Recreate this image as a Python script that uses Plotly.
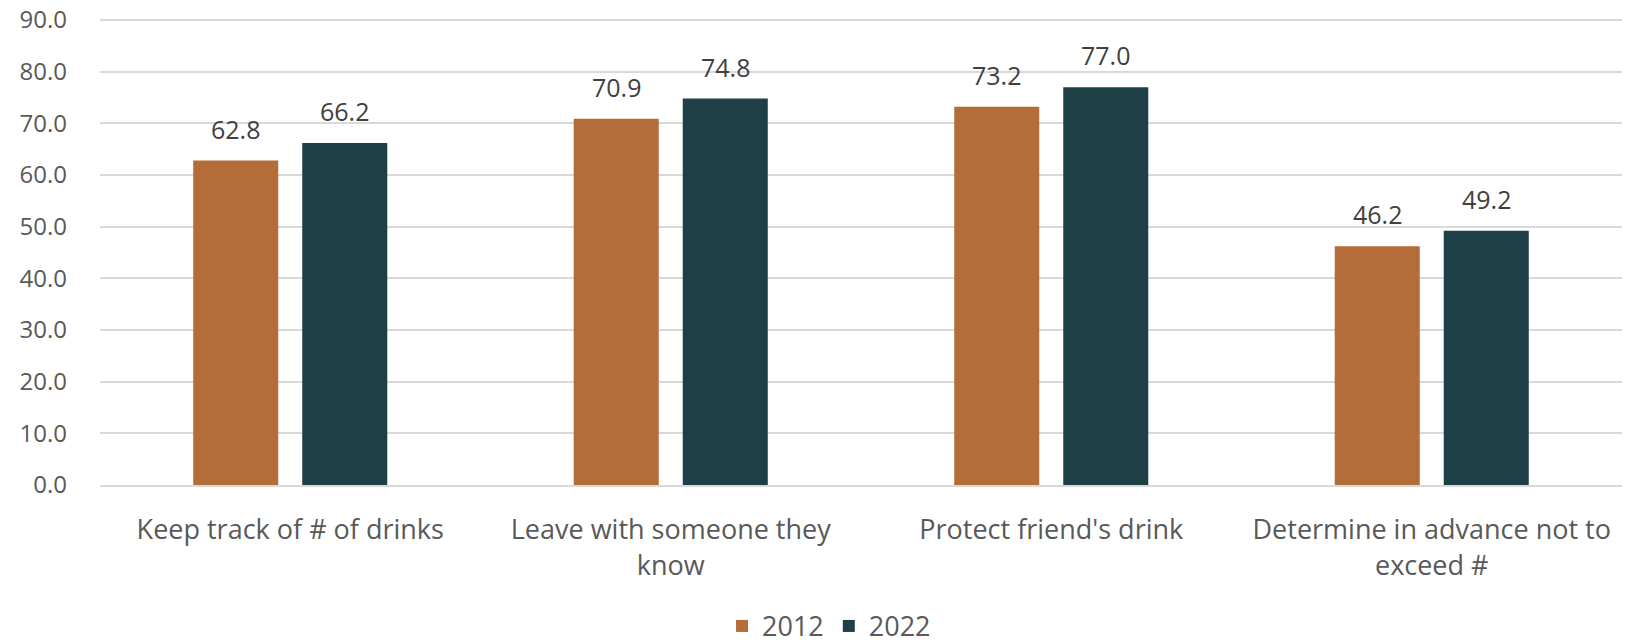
import plotly.graph_objects as go

categories = ["Keep track of # of drinks", "Leave with someone they<br>know",
              "Protect friend's drink", "Determine in advance not to<br>exceed #"]
series_names = ["2012", "2022"]
values_2012 = [62.8, 70.9, 73.2, 46.2]
values_2022 = [66.2, 74.8, 77.0, 49.2]
y_ticks = [0, 10, 20, 30, 40, 50, 60, 70, 80, 90]

colors = ["#B46D38", "#1F3F46"]
FONT = "Open Sans"
TXT = "#595959"
FS = 27

fig = go.Figure()
for name, vals, col in zip(series_names, [values_2012, values_2022], colors):
    fig.add_trace(go.Bar(
        x=categories, y=vals, name=name, marker_color=col,
        marker_line_width=0,
    ))

# data labels above bars
offsets = [-54.5, 54.5]
for vals, dx in zip([values_2012, values_2022], offsets):
    for c, v in zip(categories, vals):
        fig.add_annotation(x=c, y=v, xref="x", yref="y", text=f"{v:.1f}",
                           showarrow=False, xshift=dx, yanchor="bottom", yshift=13,
                           font=dict(family=FONT, size=25, color="#404040"))

fig.update_layout(
    width=1630, height=644,
    margin=dict(l=100, r=8, t=19, b=159, autoexpand=False),
    plot_bgcolor="white", paper_bgcolor="white",
    barmode="group", bargap=0.427, bargroupgap=0.22,
    font=dict(family=FONT, size=FS, color=TXT),
    showlegend=True,
    legend=dict(orientation="h", x=0.479, xanchor="center", y=-0.356, yanchor="bottom",
                font=dict(family=FONT, size=FS, color=TXT), traceorder="normal",
                itemwidth=30),
)
fig.update_yaxes(range=[0, 90.2], tickvals=y_ticks, ticktext=[f"{t:.1f}" for t in y_ticks],
                 showgrid=True, gridcolor="#D9D9D9", gridwidth=2, zeroline=False,
                 showline=False, ticklabelstandoff=32, automargin=False,
                 ticklabeloverflow="allow",
                 tickfont=dict(family=FONT, size=24, color=TXT))
fig.update_xaxes(showgrid=False, showline=True, linecolor="#D9D9D9", linewidth=2,
                 ticks="", ticklabelstandoff=20, automargin=False,
                 tickfont=dict(family=FONT, size=FS, color=TXT))

fig.write_html("out.html", config={"displayModeBar": False},
               post_script="document.body.style.margin='0';document.body.style.overflow='hidden';")
